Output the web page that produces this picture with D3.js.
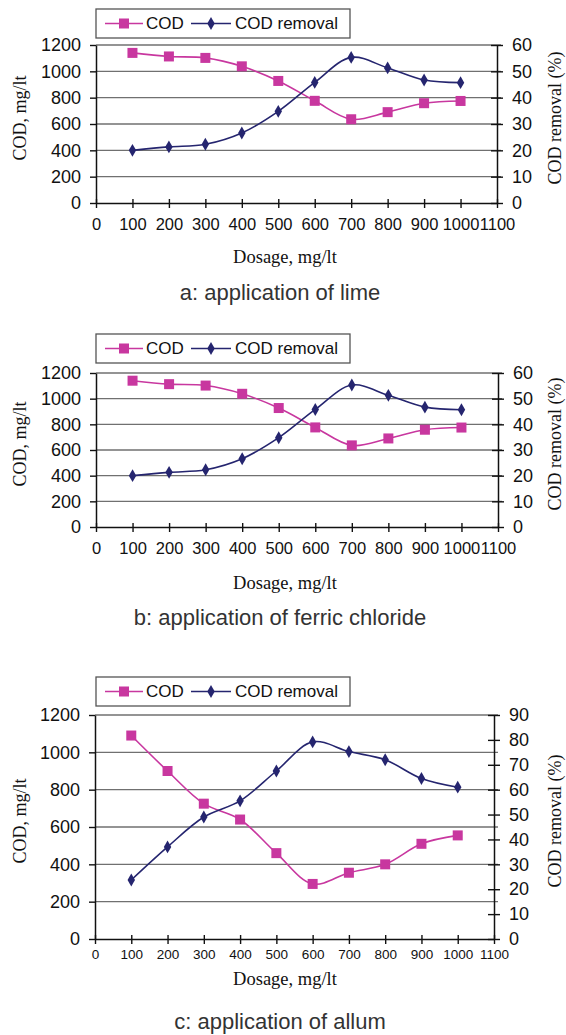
<!DOCTYPE html>
<html>
<head>
<meta charset="utf-8">
<script src="https://cdn.jsdelivr.net/npm/d3@7"></script>
<style>
  body { margin: 0; background: #fff; }
  svg text { font-family: "Liberation Sans", Arial, sans-serif; fill: #111; }
  svg text.serif { font-family: "Liberation Serif", "Times New Roman", serif; }
</style>
</head>
<body>
<div id="chart"></div>
<script>
// data
const dosage = [100, 200, 300, 400, 500, 600, 700, 800, 900, 1000];
const xTicks = [0, 100, 200, 300, 400, 500, 600, 700, 800, 900, 1000, 1100];
const codTicks = [0, 200, 400, 600, 800, 1000, 1200];
const removalTicksAB = [0, 10, 20, 30, 40, 50, 60];
const removalTicksC = [0, 10, 20, 30, 40, 50, 60, 70, 80, 90];

const codLime = [1140, 1113, 1102, 1038, 927, 776, 636, 690, 758, 775];
const removalLime = [20, 21.3, 22.3, 26.6, 34.8, 45.8, 55.3, 51.3, 46.7, 45.7];
const codFerric = [1140, 1113, 1102, 1038, 927, 776, 636, 690, 758, 775];
const removalFerric = [20, 21.3, 22.3, 26.6, 34.8, 45.8, 55.3, 51.3, 46.7, 45.7];
const codAlum = [1090, 900, 725, 640, 460, 295, 355, 400, 510, 555];
const removalAlum = [23.7, 37, 49, 55.5, 67.5, 79.2, 75.3, 72, 64.5, 61];

const seriesNames = ["COD", "COD removal"];
const captions = ["a: application of lime", "b: application of ferric chloride", "c: application of allum"];

const codColor = "#c8379f";
const removalColor = "#25256f";

const W = 566, H = 1035;
const svg = d3.select("#chart").append("svg").attr("width", W).attr("height", H);
const fmt = d3.format("d");

// layout of the three stacked charts
const panels = [
  { cod: codLime, removal: removalLime, rMax: 60, rTicks: removalTicksAB, caption: captions[0],
    left: 96, right: 497, top: 45, bottom: 203, legendY: 9, xFont: 16.5, xPad: 10, dosageY: 257, captionY: 292 },
  { cod: codFerric, removal: removalFerric, rMax: 60, rTicks: removalTicksAB, caption: captions[1],
    left: 96, right: 498, top: 373, bottom: 527, legendY: 334, xFont: 16.5, xPad: 10, dosageY: 583, captionY: 617 },
  { cod: codAlum, removal: removalAlum, rMax: 90, rTicks: removalTicksC, caption: captions[2],
    left: 95, right: 494, top: 715, bottom: 939, legendY: 677, xFont: 13.5, xPad: 5, dosageY: 979, captionY: 1021 }
];

panels.forEach(p => drawPanel(p));

function drawPanel(p) {
  const g = svg.append("g");
  const x = d3.scaleLinear().domain([0, 1100]).range([p.left, p.right]);
  const yL = d3.scaleLinear().domain([0, 1200]).range([p.bottom, p.top]);
  const yR = d3.scaleLinear().domain([0, p.rMax]).range([p.bottom, p.top]);

  // horizontal gridlines on the COD scale
  g.append("g").selectAll("line")
    .data(codTicks.filter(d => d > 0))
    .join("line")
    .attr("x1", p.left).attr("x2", p.right + 4)
    .attr("y1", d => yL(d)).attr("y2", d => yL(d))
    .attr("stroke", "#707070").attr("stroke-width", 1.4);

  // left axis
  const gl = g.append("g")
    .attr("transform", `translate(${p.left},0)`)
    .call(d3.axisLeft(yL).tickValues(codTicks).tickFormat(fmt).tickSizeInner(6).tickSizeOuter(0).tickPadding(9));
  gl.selectAll("text").style("font-size", "18px");

  // right axis, ticks cross the line
  const gr = g.append("g")
    .attr("transform", `translate(${p.right},0)`)
    .call(d3.axisRight(yR).tickValues(p.rTicks).tickFormat(fmt).tickSizeInner(6).tickSizeOuter(0).tickPadding(9));
  gr.selectAll(".tick line").attr("x1", -6);
  gr.selectAll("text").style("font-size", "18px");

  // bottom axis
  const gb = g.append("g")
    .attr("transform", `translate(0,${p.bottom})`)
    .call(d3.axisBottom(x).tickValues(xTicks).tickFormat(fmt).tickSizeInner(5).tickSizeOuter(0).tickPadding(p.xPad));
  gb.selectAll(".tick line").attr("y1", -4);
  gb.selectAll("text").style("font-size", p.xFont + "px");

  [gl, gr, gb].forEach(a => {
    a.select(".domain").attr("stroke", "#111").attr("stroke-width", 1.5);
    a.selectAll(".tick line").attr("stroke", "#111").attr("stroke-width", 1.4);
  });

  const curve = d3.curveCatmullRom.alpha(0.5);

  // COD series
  const codPts = dosage.map((d, i) => ({ x: d, y: p.cod[i] }));
  g.append("path")
    .datum(codPts)
    .attr("fill", "none").attr("stroke", codColor).attr("stroke-width", 1.6)
    .attr("d", d3.line().x(d => x(d.x)).y(d => yL(d.y)).curve(curve));
  g.append("g").selectAll("rect")
    .data(codPts)
    .join("rect")
    .attr("x", d => x(d.x) - 5).attr("y", d => yL(d.y) - 5)
    .attr("width", 10).attr("height", 10)
    .attr("fill", codColor);

  // COD removal series on the secondary axis
  const remPts = dosage.map((d, i) => ({ x: d, y: p.removal[i] }));
  g.append("path")
    .datum(remPts)
    .attr("fill", "none").attr("stroke", removalColor).attr("stroke-width", 1.6)
    .attr("d", d3.line().x(d => x(d.x)).y(d => yR(d.y)).curve(curve));
  g.append("g").selectAll("path")
    .data(remPts)
    .join("path")
    .attr("transform", d => `translate(${x(d.x)},${yR(d.y)})`)
    .attr("d", d3.symbol(d3.symbolDiamond, 48))
    .attr("fill", removalColor);

  // axis titles
  const midY = (p.top + p.bottom) / 2 - 6;
  g.append("text").attr("class", "serif")
    .attr("transform", `translate(20,${midY}) rotate(-90)`)
    .attr("text-anchor", "middle").attr("dominant-baseline", "central")
    .style("font-size", "18px").text("COD, mg/lt");
  g.append("text").attr("class", "serif")
    .attr("transform", `translate(555,${midY}) rotate(-90)`)
    .attr("text-anchor", "middle").attr("dominant-baseline", "central")
    .style("font-size", "18px").text("COD removal (%)");
  g.append("text").attr("class", "serif")
    .attr("x", 285).attr("y", p.dosageY)
    .attr("text-anchor", "middle").attr("dominant-baseline", "central")
    .style("font-size", "18.5px").text("Dosage, mg/lt");

  // caption under each chart
  g.append("text")
    .attr("x", 280).attr("y", p.captionY)
    .attr("text-anchor", "middle").attr("dominant-baseline", "central")
    .style("font-size", "22px").style("fill", "#333")
    .text(p.caption);

  // legend box
  const lg = g.append("g").attr("transform", `translate(96,${p.legendY})`);
  lg.append("rect").attr("width", 254).attr("height", 29)
    .attr("fill", "#fff").attr("stroke", "#555").attr("stroke-width", 1.3);
  const cy = 14.5;
  lg.append("line").attr("x1", 9).attr("x2", 47).attr("y1", cy).attr("y2", cy)
    .attr("stroke", codColor).attr("stroke-width", 1.6);
  lg.append("rect").attr("x", 23).attr("y", cy - 5).attr("width", 10).attr("height", 10).attr("fill", codColor);
  lg.append("text").attr("x", 50).attr("y", cy).attr("dominant-baseline", "central")
    .style("font-size", "17px").text(seriesNames[0]);
  lg.append("line").attr("x1", 95).attr("x2", 135).attr("y1", cy).attr("y2", cy)
    .attr("stroke", removalColor).attr("stroke-width", 1.6);
  lg.append("path").attr("transform", `translate(115,${cy})`)
    .attr("d", d3.symbol(d3.symbolDiamond, 48)).attr("fill", removalColor);
  lg.append("text").attr("x", 139).attr("y", cy).attr("dominant-baseline", "central")
    .style("font-size", "17px").text(seriesNames[1]);
}
</script>
</body>
</html>
